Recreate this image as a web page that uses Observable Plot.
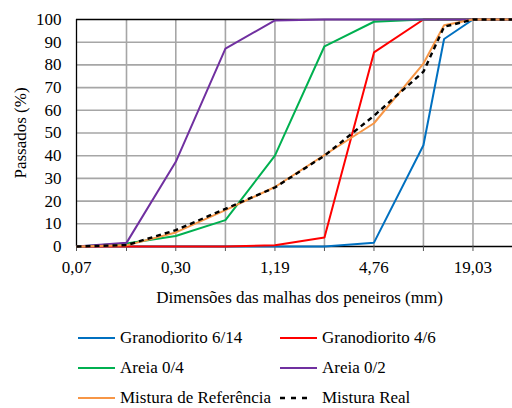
<!DOCTYPE html>
<html><head><meta charset="utf-8">
<script src="https://cdn.jsdelivr.net/npm/d3@7"></script>
<script src="https://cdn.jsdelivr.net/npm/@observablehq/plot@0.6"></script>
<style>
html,body{margin:0;padding:0;overflow:hidden;background:#fff;}
body{width:512px;height:408px;position:relative;}
#chart{position:absolute;left:0;top:0;width:522px;}
#chart svg{max-width:none !important;}
#chart svg, #chart svg text{font-family:"Liberation Serif","Times New Roman","DejaVu Serif","Noto Serif",serif !important;}
#legend{position:absolute;left:78px;top:323px;font-family:"Liberation Serif","Times New Roman","DejaVu Serif","Noto Serif",serif;font-size:17px;color:#000;}
.row{display:flex;height:30px;align-items:center;}
.item{display:flex;align-items:center;white-space:nowrap;}
.item.c1{width:202px;}
.item svg{margin-right:5px;}
</style>
</head><body>
<div id="chart"></div>
<div id="legend"></div>
<script>
const sieves = [0.074, 0.149, 0.297, 0.595, 1.19, 2.38, 4.76, 9.51, 12.7, 19.03, 38.06];
const names = ["Granodiorito 6/14", "Granodiorito 4/6", "Areia 0/4", "Areia 0/2", "Mistura de Referência", "Mistura Real"];
const granodiorito614 = [0, 0, 0, 0, 0, 0, 1.7, 44.6, 91.4, 100, 100];
const granodiorito46 = [0, 0, 0, 0, 0.6, 4, 85.5, 100, 100, 100, 100];
const areia04 = [0, 1.3, 4.6, 11.6, 40, 88.2, 99, 100, 100, 100, 100];
const areia02 = [0, 1.6, 37.3, 87.2, 99.6, 100, 100, 100, 100, 100, 100];
const misturaRef = [0, 0.5, 6.2, 16, 26.2, 40.3, 54.3, 80.6, 97.5, 100, 100];
const misturaReal = [0, 0.6, 7.2, 16.6, 26, 40, 57.6, 77, 96.8, 100, 100];
const colors = ["#0070C0", "#FF0000", "#00B050", "#7030A0", "#F79646", "#000000"];
const xTicks = [0.074, 0.149, 0.297, 0.595, 1.19, 2.38, 4.76, 9.51, 19.03, 38.06];
const xLabelTicks = [0.074, 0.297, 1.19, 4.76, 19.03];
const xTickLabels = ["0,07", "0,30", "1,19", "4,76", "19,03"];
const yTicks = [0, 10, 20, 30, 40, 50, 60, 70, 80, 90, 100];

const seriesValues = [granodiorito614, granodiorito46, areia04, areia02, misturaRef, misturaReal];
const tables = seriesValues.map((vals, k) => sieves.map((x, i) => ({name: names[k], x, y: vals[i]})));

const labelFor = (d) => {
  const j = xLabelTicks.findIndex((t) => Math.abs(Math.log(+d / t)) < 1e-3);
  return j >= 0 ? xTickLabels[j] : "";
};

const gridColor = "#A6A6A6";
const lineMarks = tables.map((t, k) => Plot.line(t, {
  x: "x", y: "y", stroke: colors[k],
  strokeWidth: k === 5 ? 2.4 : 2,
  strokeDasharray: k === 5 ? "5,4" : null,
  strokeLinejoin: "miter", strokeLinecap: "butt"
}));

const chart = Plot.plot({
  width: 522,
  height: 312,
  marginLeft: 76,
  marginRight: 0,
  marginTop: 19,
  marginBottom: 66,
  style: {fontSize: "17px", color: "#000", background: "transparent", maxWidth: "none"},
  x: {type: "log", domain: [0.074, 38.06]},
  y: {domain: [0, 100]},
  marks: [
    Plot.gridX(xTicks.slice(1), {stroke: gridColor, strokeOpacity: 1, strokeWidth: 1.6}),
    Plot.gridY(yTicks.slice(1, -1), {stroke: gridColor, strokeOpacity: 1, strokeWidth: 1.6}),
    Plot.ruleX([xTicks[0]], {stroke: "#000", strokeWidth: 1.3}),
    Plot.ruleY([yTicks[0], yTicks[yTicks.length - 1]], {stroke: "#000", strokeWidth: 1.3}),
    Plot.axisX(xTicks, {tickSize: 5, stroke: "#555", text: null, label: null}),
    Plot.axisX(xLabelTicks, {
      tickSize: 0, tickPadding: 14,
      text: labelFor,
      label: "Dimensões das malhas dos peneiros (mm)", labelAnchor: "center", labelOffset: 56, labelArrow: "none"
    }),
    Plot.axisY(yTicks, {
      tickSize: 0, tickPadding: 15,
      label: "Passados (%)", labelAnchor: "center", labelOffset: 63, labelArrow: "none"
    }),
    ...lineMarks
  ]
});
document.getElementById("chart").appendChild(chart);

// Legend
const legend = d3.select("#legend");
for (let r = 0; r < 3; r++) {
  const row = legend.append("div").attr("class", "row");
  for (let c = 0; c < 2; c++) {
    const k = r * 2 + c;
    const item = row.append("div").attr("class", "item" + (c === 0 ? " c1" : ""));
    const sw = item.append("svg").attr("width", 37).attr("height", 10);
    sw.append("line").attr("x1", 0).attr("x2", k === 5 ? 31 : 37).attr("y1", 5).attr("y2", 5)
      .attr("stroke", colors[k]).attr("stroke-width", k === 5 ? 2.4 : 2)
      .attr("stroke-dasharray", k === 5 ? "5,6" : null);
    item.append("span").text(names[k]);
  }
}
</script>
</body></html>
